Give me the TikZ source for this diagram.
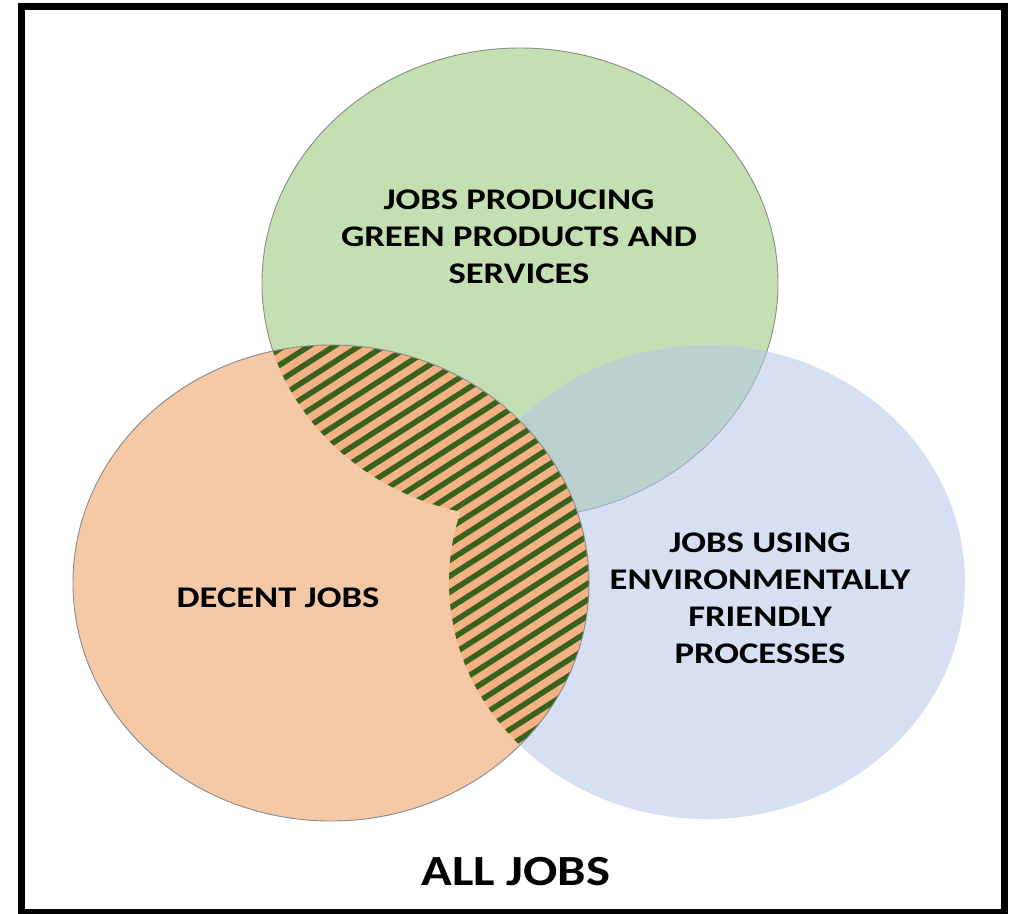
\documentclass[tikz,border=0pt]{standalone}
\usepackage{fontspec}
\setmainfont{Carlito}
\definecolor{greenfill}{HTML}{C4DFB2}
\definecolor{bluefill}{HTML}{B4C7E7}
\definecolor{orangefill}{HTML}{F5C8A6}
\definecolor{hatchbg}{HTML}{F4B183}
\definecolor{hatchline}{HTML}{38621E}
\definecolor{rim}{HTML}{8A8A8A}
\begin{document}
\begin{tikzpicture}[x=1pt,y=-1pt,
  lbl/.style={font=\bfseries\fontsize{30}{37}\selectfont, align=center, inner sep=0pt, xscale=1.22},
  title/.style={font=\bfseries\fontsize{43}{48}\selectfont, inner sep=0pt, xscale=1.18},
  rimline/.style={draw=rim, line width=0.9pt},
  stripe/.style={draw=hatchline, line width=5.5pt}]
\useasboundingbox (0,0) rectangle (1009,913);
\clip (0,0) rectangle (1009,913);

% outer frame
\draw[line width=7pt] (21.5,6.5) rectangle (1004.5,912.5);

% the three sets
\def\greenset{(520,283) ellipse [x radius=258pt, y radius=235pt]}
\def\blueset{(707,582) ellipse [x radius=258pt, y radius=237pt]}
\def\orangeset{(331,583) ellipse [x radius=258pt, y radius=238pt]}

\fill[greenfill] \greenset;
\draw[rimline] \greenset;
\fill[bluefill, opacity=0.55] \blueset;
\fill[orangefill] \orangeset;

% hatched part of the decent jobs set
\begin{scope}
  \clip \orangeset;
  \foreach \region in {\greenset,\blueset}{
    \begin{scope}
      \clip \region;
      \fill[hatchbg] (0,0) rectangle (1009,913);
      \foreach \c in {0,16,...,1600}
        \draw[stripe] (0,\c) -- (1009,\c-646);
    \end{scope}
  }
\end{scope}
\draw[rimline] \orangeset;

% labels
\node[lbl] (green) at (519,237) {JOBS PRODUCING\\GREEN PRODUCTS AND\\SERVICES};
\node[lbl] (blue) at (760,598) {JOBS USING\\ENVIRONMENTALLY\\FRIENDLY\\PROCESSES};
\node[lbl] (decent) at (278,598) {DECENT JOBS};
\node[title] (all) at (516,872) {ALL JOBS};
\end{tikzpicture}
\end{document}
